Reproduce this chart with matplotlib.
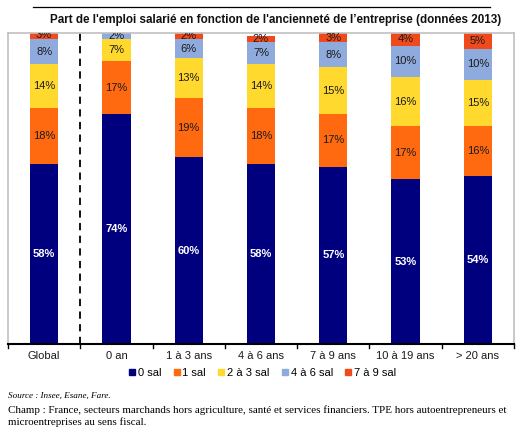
import matplotlib
matplotlib.use("Agg")
import matplotlib.pyplot as plt
from matplotlib.lines import Line2D
import numpy as np

categories = ["Global", "0 an", "1 à 3 ans", "4 à 6 ans", "7 à 9 ans", "10 à 19 ans", "> 20 ans"]
series_names = ["0 sal", "1 sal", "2 à 3 sal", "4 à 6 sal", "7 à 9 sal"]
sal0 = [58, 74, 60, 58, 57, 53, 54]
sal1 = [18, 17, 19, 18, 17, 17, 16]
sal2_3 = [14, 7, 13, 14, 15, 16, 15]
sal4_6 = [8, 2, 6, 7, 8, 10, 10]
sal7_9 = [3, 1, 2, 2, 3, 4, 5]
labels7_9 = ["3%", "", "2%", "2%", "3%", "4%", "5%"]
labels4_6 = ["8%", "2%", "6%", "7%", "8%", "10%", "10%"]
colors = ["#00007f", "#ff6a10", "#ffd92e", "#8faadc", "#f04a1c"]

series = [sal0, sal1, sal2_3, sal4_6, sal7_9]

plt.rcParams['font.family'] = ['Liberation Sans', 'DejaVu Sans']
fig = plt.figure(figsize=(5.25, 4.36), dpi=100)
ax = fig.add_axes([0.0152, 0.211, 0.9638, 0.713])

x = np.arange(len(categories))
bottom = np.zeros(len(categories))
for i, (vals, name, c) in enumerate(zip(series, series_names, colors)):
    vals = np.array(vals, dtype=float)
    ax.bar(x, vals, width=0.39, bottom=bottom, color=c, label=name, zorder=2)
    for j in range(len(categories)):
        if i == 4:
            txt = labels7_9[j]
        elif i == 3:
            txt = labels4_6[j]
        else:
            txt = f"{int(vals[j])}%"
        if not txt:
            continue
        yc = bottom[j] + vals[j] / 2
        if i == 4:
            yc = min(yc, 99.3)
        if i == 0:
            ax.text(x[j], yc, txt, ha="center", va="center", color="white",
                    fontsize=8, fontweight="bold", zorder=3)
        else:
            ax.text(x[j], yc, txt, ha="center", va="center", color="#1a1a1a",
                    fontsize=8, zorder=3, clip_on=True)
    bottom += vals

ax.set_xlim(-0.5, len(categories) - 0.5)
ax.set_ylim(0, 100)
ax.set_yticks([])
ax.set_xticks(x)
ax.set_xticklabels(categories, fontsize=8, color="#1a1a1a")
ax.tick_params(axis="x", length=0, pad=5)
for b in np.arange(-0.5, len(categories), 1.0):
    ax.plot([b, b], [0, -1.3], color="black", lw=1, clip_on=False, zorder=4)
ax.axvline(0.5, color="black", lw=1.3, ls=(0, (4, 3)), zorder=1)

for s in ["top", "left", "right"]:
    ax.spines[s].set_color("#c0c0c0")
    ax.spines[s].set_linewidth(1.2)
ax.spines["bottom"].set_color("black")
ax.spines["bottom"].set_linewidth(1.5)
ax.spines["bottom"].set_zorder(5)

fig.text(0.525, 0.953, "Part de l'emploi salarié en fonction de l'ancienneté de l’entreprise (données 2013)",
         ha="center", va="center", fontsize=8.4, fontweight="bold",
         family=['Liberation Sans Narrow', 'Liberation Sans', 'DejaVu Sans'], color="#111111")
fig.add_artist(Line2D([33 / 525, 490 / 525], [1 - 7 / 436, 1 - 7 / 436], color="black", lw=0.9))

handles = [plt.Rectangle((0, 0), 1, 1, color=c) for c in colors]
fig.legend(handles, series_names, loc="center", bbox_to_anchor=(0.5, 1 - 373 / 436), ncol=5,
           frameon=False, fontsize=8, handlelength=0.55, handleheight=0.55,
           handletextpad=0.25, columnspacing=1.1)

fig.text(0.015, 1 - 396 / 436, "Source : Insee, Esane, Fare.", fontsize=6.6, style="italic",
         family=['Liberation Serif', 'DejaVu Serif'], va="center")
fig.text(0.015, 1 - 410 / 436,
         "Champ : France, secteurs marchands hors agriculture, santé et services financiers. TPE hors autoentrepreneurs et",
         fontsize=7.9, family=['Liberation Serif', 'DejaVu Serif'], va="center")
fig.text(0.015, 1 - 422 / 436, "microentreprises au sens fiscal.",
         fontsize=7.9, family=['Liberation Serif', 'DejaVu Serif'], va="center")

fig.savefig("out.png", dpi=100)
